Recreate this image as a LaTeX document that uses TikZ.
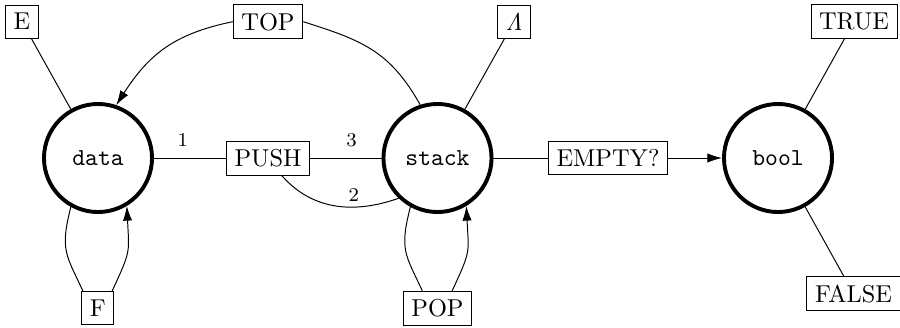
\documentclass[tikz,border=0pt]{standalone}
\usetikzlibrary{arrows.meta}
\begin{document}
\begin{tikzpicture}[x=0.41pt,y=-0.41pt,
  state/.style={circle,draw,line width=1.6pt,minimum size=44.3pt,inner sep=0pt,font=\ttfamily},
  box/.style={draw,inner sep=3.33pt},
  lbl/.style={font=\footnotesize,inner sep=2pt},
  arr/.style={-{Latex[length=6pt,width=3.8pt]}}]
\useasboundingbox (0,0) rectangle (900,327);
\node[state] (data) at (98,158) {data};
\node[state] (stack) at (437.5,158) {stack};
\node[state] (bool) at (778,158) {bool};
\node[box] (E) at (22,21.7) {E};
\node[box] (TOP) at (268,21.7) {TOP};
\node[box] (L) at (514,21.7) {$\mathit{\Lambda}$};
\node[box] (TRUE) at (854,21.7) {TRUE};
\node[box] (PUSH) at (268,158) {PUSH};
\node[box] (EMPTY) at (608,158) {EMPTY?};
\node[box] (F) at (97.8,308.3) {F};
\node[box] (POP) at (437.5,308.3) {POP};
\node[box] (FALSE) at (853.5,293.7) {FALSE};
\draw (E) -- (data);
\draw (L) -- (stack);
\draw (TRUE) -- (bool);
\draw (FALSE) -- (bool);
\draw (data) -- node[lbl,above=2.5pt,pos=0.4]{1} (PUSH);
\draw (PUSH) -- node[lbl,above=2.5pt,pos=0.58]{3} (stack);
\draw (PUSH.-52) .. controls +(36.3,41.3) and +(-32.9,11.6) .. node[lbl,above,pos=0.6]{2} (stack.226);
\draw (stack.108) .. controls +(-30.4,-53.9) and +(58.9,18.6) .. (TOP.east);
\draw[arr] (TOP.west) .. controls +(-58.8,12) and +(32.4,-50.4) .. (data.71);
\draw (data.241) .. controls +(-11.25,43.6) and +(-16.8,-36.4) .. (F.131);
\draw[arr] (F.50) .. controls +(18.9,-41) and +(2.4,48) .. (data.-59);
\draw (stack.241) .. controls +(-11.25,43.6) and +(-16.8,-36.4) .. (POP.131);
\draw[arr] (POP.50) .. controls +(18.9,-41) and +(2.4,48) .. (stack.-59);
\draw (stack) -- (EMPTY);
\draw[arr] (EMPTY) -- (bool);
\end{tikzpicture}
\end{document}
